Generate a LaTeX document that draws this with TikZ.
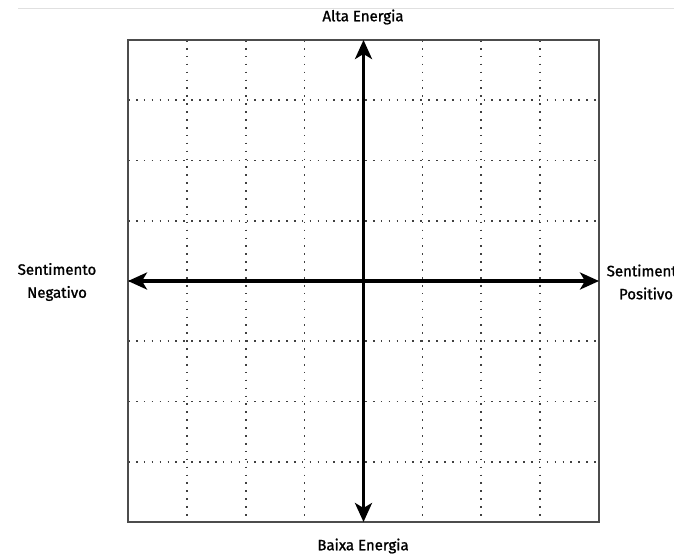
\documentclass[tikz,border=0pt]{standalone}
\usepackage{fontspec}
\setmainfont{Fira Sans}
\newfontfamily\labfont{Fira Sans}[FakeBold=1.2]
\usetikzlibrary{arrows.meta}
\begin{document}
\begin{tikzpicture}[x=1pt,y=-1pt,
  gridline/.style={draw=black!75,line width=1.6pt,dash pattern=on 1.6pt off 6.3pt},
  frame/.style={draw=black!70,line width=1.6pt},
  axis/.style={draw=black,line width=3.2pt,-{Stealth[length=19pt,width=17pt,inset=5pt]}},
  label/.style={font=\labfont\fontsize{15}{23}\selectfont,align=center,inner sep=0pt}]
  \useasboundingbox (0,0) rectangle (674,555);
  \fill[white] (0,0) rectangle (674,555);
  % thin rule across the top
  \draw[black!12,line width=1pt] (18,8) -- (674,8);
  % dotted grid: 8 columns, 8 rows
  \foreach \i in {1,...,7} {
    \draw[gridline] ({128+\i*58.875},40) -- ({128+\i*58.875},522);
    \draw[gridline] (128,{40+\i*60.25}) -- (599,{40+\i*60.25});
  }
  \draw[frame] (128,40) rectangle (599,522);
  % centre and edge anchors of the axes
  \coordinate (c) at (363.5,281);
  \coordinate (top) at (363.5,40);
  \coordinate (bot) at (363.5,522);
  \coordinate (lft) at (128,281);
  \coordinate (rgt) at (599,281);
  \draw[axis] (c) -- (top);
  \draw[axis] (c) -- (bot);
  \draw[axis] (c) -- (lft);
  \draw[axis] (c) -- (rgt);
  % axis labels
  \node[label] (alta) at (363,17) {Alta Energia};
  \node[label] (baixa) at (363,546) {Baixa Energia};
  \node[label] (neg) at (57,282) {Sentimento\\Negativo};
  \node[label] (pos) at (646,282) {Sentimento\\Positivo};
\end{tikzpicture}
\end{document}
